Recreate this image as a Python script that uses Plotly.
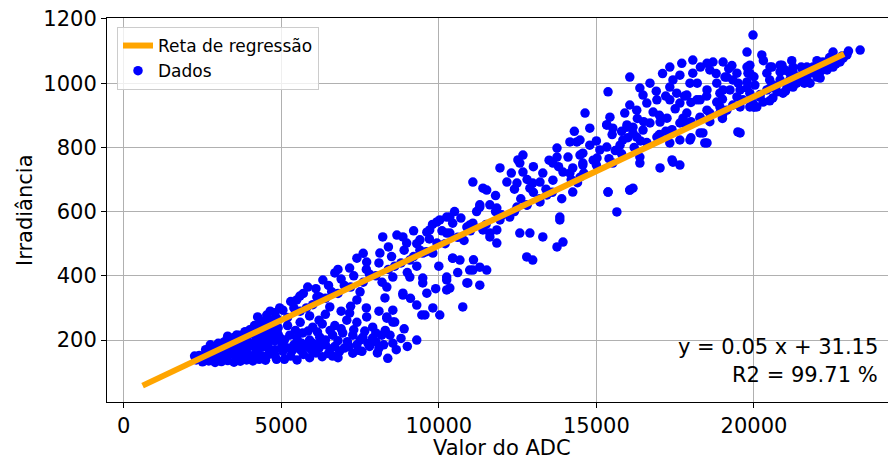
import plotly.graph_objects as go

# ---- data (ADC value, irradiance) ----
cluster_low = [
    (2300, 138), (2500, 132), (2700, 135), (2900, 130), (3100, 133), (3300, 136), (3500, 131),
    (3700, 134), (3900, 138), (4100, 135), (4300, 140), (4500, 137),
    (2250, 150), (2400, 152), (2600, 150), (2800, 155), (3000, 148), (3200, 153), (3400, 157),
    (3600, 150), (3800, 155), (4000, 152), (4200, 158), (4400, 150), (4600, 155), (4800, 152),
    (2600, 170), (2800, 168), (3000, 175), (3200, 172), (3400, 178), (3600, 170), (3800, 176),
    (4000, 180), (4200, 172), (4400, 178), (4600, 175), (4800, 170), (5000, 176),
    (3000, 190), (3200, 195), (3400, 192), (3600, 198), (3800, 194), (4000, 190), (4200, 200),
    (4400, 196), (4600, 192), (4800, 198), (5000, 194),
    (3300, 212), (3500, 208), (3590, 216), (3700, 215), (3900, 210), (4100, 218), (4300, 212),
    (4500, 220), (4700, 214), (4900, 218),
    (4000, 232), (4300, 240), (4500, 236), (4700, 245), (4900, 238), (4600, 255), (4450, 253),
    (4540, 278), (4730, 262), (4950, 300), (4800, 285),
    (2450, 143), (2650, 160), (2850, 145), (3050, 162), (3250, 144), (3450, 165), (3650, 142),
    (3850, 163), (4050, 145), (4250, 165), (4450, 143), (4650, 164), (4850, 140),
    (2750, 185), (2950, 182), (3150, 184), (3350, 205), (3550, 186), (3750, 202), (3950, 225),
    (4150, 186), (4350, 228), (4550, 205), (4750, 228), (4950, 208), (3850, 226), (4150, 245),
    (4350, 260), (4250, 272), (4650, 290), (4850, 268),
]

arm_low = [
    (5100, 140), (5300, 150), (5500, 138), (5700, 155), (5900, 145), (6100, 160), (6300, 148),
    (6500, 158), (6630, 150), (6800, 145), (7270, 159), (7560, 165), (8380, 143),
    (5200, 175), (5400, 185), (5600, 170), (5800, 180), (6000, 190), (6200, 175), (6400, 185),
    (6700, 180), (7000, 175), (7400, 185), (7800, 180), (8100, 175),
    (5270, 215), (5680, 222), (6220, 209), (6630, 215), (6950, 222), (7270, 215), (7590, 209),
    (7900, 206), (8190, 215), (8540, 190), (8800, 205), (9300, 200),
    (5100, 200), (5500, 205), (5900, 200), (6400, 200), (6800, 198), (7100, 195), (7500, 200),
    (8000, 195),
    (5200, 245), (5600, 255), (6000, 240), (6300, 250), (6700, 245), (7080, 262), (7400, 255),
    (7710, 272), (8350, 268), (8540, 256), (8300, 230), (7900, 240),
    (5050, 165), (5350, 168), (5650, 190), (5950, 170), (6250, 195), (6550, 172), (6850, 165),
    (7150, 180), (7450, 168), (7750, 190), (8050, 160), (8250, 185), (8650, 170), (5450, 230),
    (5850, 228), (6150, 225), (6550, 230), (6900, 235), (7300, 232), (7650, 228), (8000, 222),
    (8450, 215), (9000, 180), (8900, 235),
    (5900, 275), (6400, 280), (6900, 290), (7700, 300), (8100, 290), (6200, 262), (7200, 305),
]

band_mid = [
    (8220, 521), (8670, 527), (8980, 502), (8130, 471), (7400, 455), (7710, 443), (6700, 409),
    (7170, 424), (6320, 387), (5840, 365), (5490, 325), (5050, 293), (6130, 334), (6540, 303),
    (7170, 284), (7400, 325), (5590, 337),
    (9620, 536), (9940, 568), (10350, 583), (10250, 533), (9940, 502), (9490, 471), (9080, 449),
    (8540, 396), (8350, 365), (8860, 340), (8290, 331), (8540, 293), (9300, 309), (9460, 278),
    (9810, 300), (10030, 278), (10760, 303), (10250, 387), (10350, 362), (9490, 393), (9620, 346),
    (10980, 418), (11300, 427), (11520, 418), (10920, 378), (11300, 371), (10440, 455), (10670, 449),
    (11300, 614), (11620, 621), (11620, 521), (11840, 543), (10980, 558),
    (8350, 272), (8600, 256), (9560, 278),
    (5200, 270), (5600, 290), (6000, 310), (6400, 330), (6800, 345), (7200, 365), (7600, 380),
    (8000, 400), (8400, 420), (8800, 440), (9200, 460), (9600, 475), (5400, 300), (6200, 335),
    (7000, 370), (7800, 405), (8600, 430), (9400, 480),
    (14790, 860), (15330, 870), (15970, 870), (16160, 845), (14160, 817), (14380, 817), (13750, 798),
    (14790, 807), (14480, 776), (13750, 770), (13620, 751), (14250, 736), (14570, 745), (13940, 723),
    (14160, 720), (12670, 776), (12570, 751), (12670, 723), (11940, 736), (12160, 692), (12480, 689),
    (11080, 692), (11400, 673), (11520, 667), (12980, 689), (13210, 692), (12890, 673), (13620, 698),
    (14250, 661), (15370, 661), (16060, 667), (15650, 599), (11300, 621), (11840, 611), (12480, 614),
    (12790, 621), (13210, 630), (13430, 652), (11400, 543), (11620, 533), (11840, 502), (11940, 574),
    (12250, 583), (11080, 564), (10890, 552), (12570, 533), (12890, 533), (13300, 521), (13840, 583),
    (13840, 574), (13940, 505), (13750, 490), (12790, 459), (12980, 449), (10250, 583), (10440, 564),
    (10030, 574), (9710, 543), (10350, 533), (9400, 512), (8860, 521), (9810, 471), (10440, 455),
    (11080, 418), (10890, 378), (10250, 396), (10250, 356), (9490, 378), (8860, 346), (9080, 396),
    (12510, 761),
    (10200, 500), (10600, 520), (11000, 540), (11500, 560), (12000, 590), (12400, 600), (12800, 620),
    (13200, 640), (13600, 660), (10800, 510), (11800, 600), (12600, 640), (13000, 660), (13400, 670),
    (5300, 320), (5700, 345), (6100, 360), (6500, 370), (6900, 390), (7300, 400), (7700, 420),
    (8100, 440), (8500, 460), (8900, 480), (9300, 500), (9700, 515), (10100, 540), (5800, 300),
    (6600, 350), (7500, 350), (8200, 380), (9000, 410), (6800, 420), (7600, 470), (8400, 490),
    (9200, 540), (9800, 560), (10500, 600), (10700, 580),
    (12300, 720), (12800, 700), (13300, 720), (13800, 740), (14100, 770), (13500, 760), (13000, 740),
    (12400, 670), (11800, 650), (11200, 600), (13900, 640), (14400, 690),
    (9100, 330), (9900, 360), (10600, 410), (11100, 450), (9300, 430), (10000, 430),
]

band_high = [
    (19970, 1150), (19780, 1097), (20250, 1088), (23370, 1103), (22510, 1097), (22950, 1088),
    (17330, 1050), (17710, 1062), (18060, 1072), (18510, 1062), (18700, 1066), (19020, 1066),
    (16060, 1019), (15370, 973), (16380, 985), (16480, 963), (17430, 1010), (17650, 1025),
    (18060, 1031), (17970, 1000), (17330, 988), (17550, 969), (17870, 963), (17330, 948),
    (17650, 938), (16920, 948), (16600, 938), (16060, 932), (16280, 916), (15900, 907),
    (15430, 894), (15330, 870), (15520, 860), (14640, 907), (15970, 863), (16160, 863),
    (17020, 879), (17240, 891), (16700, 876), (16480, 854), (16280, 832), (15840, 823),
    (15750, 807), (15330, 801), (15110, 792), (14480, 823), (14570, 782), (15020, 767),
    (15520, 751), (16380, 770), (16380, 751), (17020, 736), (17430, 754), (17650, 745),
    (17330, 814), (17650, 823), (17970, 823), (18290, 845), (18440, 814), (16920, 832),
    (17650, 876), (17870, 907), (17750, 891), (18190, 948), (18510, 979), (18820, 1000),
    (19140, 1019), (19460, 1031), (19780, 1050), (19810, 1031), (19020, 979), (19460, 957),
    (18820, 941), (19140, 916), (18510, 916), (18290, 894), (18920, 907), (19560, 845),
    (19560, 926), (19970, 938), (20190, 957), (19870, 969), (20410, 979), (20600, 994),
    (20830, 1010), (20510, 1050), (20830, 1056), (21140, 1031), (21360, 1019), (21680, 1050),
    (21870, 1050), (22100, 1035), (22100, 1016), (21780, 1000), (21240, 988), (20920, 969),
    (20600, 954), (20290, 941), (20090, 926), (22510, 1050), (22730, 1066), (22830, 1078),
    (22320, 1041), (21460, 1010), (14570, 751), (14480, 707), (15370, 661), (16060, 667),
    (16160, 673), (17400, 761),
    (19870, 1056), (19870, 1031), (19080, 1019), (18290, 948), (20570, 1050), (20890, 1056),
    (21240, 1050), (22190, 1066), (22410, 1056), (21780, 1031), (21140, 1010), (20510, 985),
    (20730, 973), (21050, 988), (21360, 1000), (21680, 1010), (22000, 1019), (20410, 1031),
    (20830, 1035), (21240, 1035), (19560, 979), (19240, 979), (18920, 969), (19650, 948),
    (19330, 932), (19870, 926), (18920, 926), (18600, 907), (18290, 891), (19490, 848),
    (18380, 845), (18510, 814), (18600, 1041), (19780, 985), (20030, 994), (19330, 1010),
    (19780, 1004),
    (14200, 700), (14600, 720), (15000, 745), (15400, 765), (15800, 780), (16200, 800),
    (16600, 815), (17000, 840), (17400, 855), (17800, 875), (14900, 760), (15600, 790),
    (16400, 820), (17200, 850), (18000, 880), (18600, 880), (19000, 900), (20200, 965),
    (20700, 990), (21500, 1025), (22200, 1060), (22800, 1085),
    (15000, 820), (15500, 840), (16000, 830), (16500, 880), (17000, 900), (17500, 920),
    (18000, 940), (18500, 960), (19000, 950), (19500, 1000), (20000, 1020), (20500, 1010),
    (21000, 1040), (21500, 1050), (22000, 1070), (16800, 910), (17800, 960), (18800, 1030),
    (19300, 1055), (15800, 850), (16300, 890), (17200, 960), (14300, 850), (18200, 1000),
    (20300, 1070), (21200, 1070), (22400, 1080), (23000, 1100), (20000, 925), (21000, 975),
    (22000, 1030), (18000, 830), (19000, 890), (20500, 945), (21600, 1000), (22600, 1060),
    (16700, 1000), (17100, 1030), (18300, 1050), (19200, 1045), (16900, 975),
]

# regression line end points
line_adc = [600, 22860]
line_irr = [58, 1091]

x_ticks = [0, 5000, 10000, 15000, 20000]
x_tick_labels = ["0", "5000", "10000", "15000", "20000"]
y_ticks = [200, 400, 600, 800, 1000, 1200]
y_tick_labels = ["200", "400", "600", "800", "1000", "1200"]

equation_text = "y = 0.05 x + 31.15"
r2_text = "R2 = 99.71 %"

points = cluster_low + arm_low + band_mid + band_high
adc = [p[0] for p in points]
irr = [p[1] for p in points]

FONT = "DejaVu Sans"

fig = go.Figure()
fig.add_trace(go.Scatter(
    x=adc, y=irr, mode="markers", name="Dados",
    marker=dict(color="#0000ff", size=9.5, line=dict(width=0)),
    legendrank=2,
))
fig.add_trace(go.Scatter(
    x=line_adc, y=line_irr, mode="lines", name="Reta de regressão",
    line=dict(color="#ffa500", width=6),
    legendrank=1,
))

axis_common = dict(
    showgrid=True, gridcolor="#b0b0b0", gridwidth=1,
    zeroline=False, showline=True, linecolor="black", linewidth=1,
    ticks="outside", ticklen=5, tickwidth=1, tickcolor="black",
    tickfont=dict(family=FONT, size=21, color="black"),
)

fig.update_layout(
    width=888, height=459,
    margin=dict(l=107, r=0, t=18, b=57),
    paper_bgcolor="white", plot_bgcolor="white",
    font=dict(family=FONT, color="black"),
    xaxis=dict(range=[-530, 24254], tickvals=x_ticks, ticktext=x_tick_labels,
               mirror=True, **axis_common),
    yaxis=dict(range=[7, 1203], tickvals=y_ticks, ticktext=y_tick_labels, **axis_common),
    legend=dict(
        x=0.0128, y=0.9766, xanchor="left", yanchor="top",
        bgcolor="rgba(255,255,255,0.8)", bordercolor="#cccccc", borderwidth=1,
        font=dict(family=FONT, size=17, color="black"),
    ),
    showlegend=True,
    annotations=[
        dict(text="Valor do ADC", xref="paper", yref="paper", x=0.506, y=0,
             xanchor="center", yanchor="middle", yshift=-46, showarrow=False,
             font=dict(family=FONT, size=21, color="black")),
        dict(text="Irradiância", xref="paper", yref="paper", x=0, y=0.5,
             xanchor="center", yanchor="middle", xshift=-82, textangle=-90,
             showarrow=False, font=dict(family=FONT, size=21, color="black")),
        dict(text=equation_text, xref="paper", yref="paper", x=0.9898, y=0.1432,
             xanchor="right", yanchor="middle", showarrow=False,
             font=dict(family=FONT, size=21, color="black")),
        dict(text=r2_text, xref="paper", yref="paper", x=0.9898, y=0.0703,
             xanchor="right", yanchor="middle", showarrow=False,
             font=dict(family=FONT, size=21, color="black")),
    ],
)

fig.write_html(
    "out.html",
    config={"displayModeBar": False},
    post_script="document.body.style.margin='0';document.body.style.overflow='hidden';",
)
